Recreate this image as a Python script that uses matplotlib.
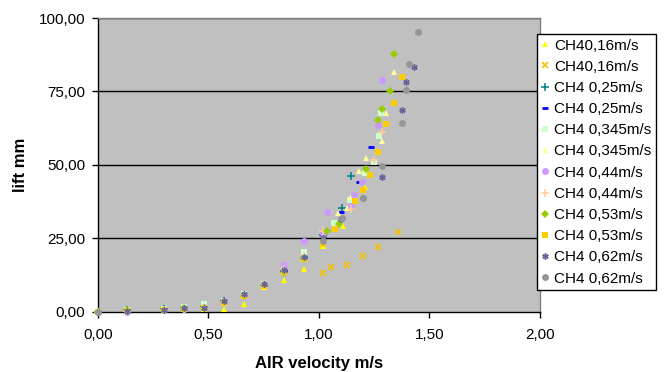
import matplotlib
matplotlib.use("Agg")
import matplotlib.pyplot as plt
from matplotlib.ticker import FuncFormatter

plt.rcParams['font.family'] = ['Liberation Sans', 'DejaVu Sans']

labels = ["CH40,16m/s", "CH40,16m/s", "CH4 0,25m/s", "CH4 0,25m/s",
          "CH4 0,345m/s", "CH4 0,345m/s", "CH4 0,44m/s", "CH4 0,44m/s",
          "CH4 0,53m/s", "CH4 0,53m/s", "CH4 0,62m/s", "CH4 0,62m/s"]

x1 = [0, 0.13, 0.30, 0.39, 0.48, 0.57, 0.66, 0.75, 0.84, 0.93, 1.02, 1.11, 1.21]
y1 = [0, 0.3, 0.5, 0.8, 1.0, 1.0, 2.6, 8.5, 10.8, 14.5, 22.5, 29.2, 42.6]

x2 = [1.02, 1.055, 1.125, 1.20, 1.266, 1.356]
y2 = [13.1, 15.2, 15.9, 19.0, 22.0, 27.1]

x3 = [0, 0.13, 0.30, 0.39, 0.48, 0.57, 0.66, 0.75, 0.84, 0.93, 1.02, 1.105, 1.143]
y3 = [0, 0.5, 0.8, 1.3, 1.5, 3.5, 5.8, 9.2, 14.0, 18.5, 26.0, 35.2, 46.3]

x4 = [0, 0.13, 0.30, 0.39, 0.48, 0.57, 0.66, 0.75, 0.84, 0.93, 1.02, 1.10, 1.18, 1.237]
y4 = [0, 0.5, 0.8, 1.3, 1.5, 3.5, 5.8, 9.2, 14.0, 18.5, 26.0, 34.0, 44.3, 56.0]

x5 = [0, 0.13, 0.30, 0.39, 0.48, 0.57, 0.66, 0.75, 0.84, 0.93, 1.07, 1.14, 1.21, 1.25, 1.27, 1.28]
y5 = [0, 0.5, 1.0, 1.6, 2.5, 3.8, 6.0, 9.5, 15.3, 20.4, 30.1, 38.0, 47.1, 50.9, 59.8, 67.8]

x6 = [0, 0.13, 0.30, 0.39, 0.48, 0.57, 0.66, 0.75, 0.84, 0.93, 1.02, 1.087, 1.125, 1.143, 1.18, 1.213, 1.285, 1.303, 1.338]
y6 = [0, 0.4, 0.7, 1.2, 1.4, 3.3, 5.5, 9.0, 14.0, 19.0, 26.0, 33.7, 35.2, 39.2, 47.9, 52.2, 58.1, 67.8, 81.7]

x7 = [0, 0.13, 0.30, 0.39, 0.48, 0.57, 0.66, 0.75, 0.84, 0.93, 1.02, 1.035, 1.146, 1.158, 1.195, 1.266, 1.285]
y7 = [0, 0.0, 0.6, 0.8, 1.5, 3.5, 5.5, 9.5, 15.8, 24.2, 26.9, 34.0, 36.1, 39.7, 44.3, 63.4, 78.9]

x8 = [0, 0.13, 0.30, 0.39, 0.48, 0.57, 0.66, 0.75, 0.84, 0.93, 1.018, 1.146, 1.248, 1.285]
y8 = [0, 0.3, 0.6, 1.0, 1.4, 3.4, 5.6, 9.3, 14.5, 19.0, 27.5, 35.0, 51.7, 61.1]

x9 = [0, 0.13, 0.30, 0.39, 0.48, 0.57, 0.66, 0.75, 0.84, 0.93, 1.035, 1.09, 1.213, 1.267, 1.285, 1.323, 1.339]
y9 = [0, 0.6, 0.5, 1.4, 1.3, 3.3, 5.5, 9.0, 13.1, 18.0, 27.5, 29.8, 48.5, 65.3, 68.9, 75.2, 87.9]

x10 = [0, 0.13, 0.30, 0.39, 0.48, 0.57, 0.66, 0.75, 0.84, 0.93, 1.02, 1.072, 1.162, 1.198, 1.233, 1.266, 1.303, 1.338, 1.375]
y10 = [0, 0.3, 0.5, 1.0, 1.2, 3.0, 5.3, 8.8, 13.5, 18.0, 23.0, 28.2, 37.8, 41.4, 46.6, 54.3, 63.9, 71.2, 79.9]

x11 = [0, 0.13, 0.30, 0.39, 0.48, 0.57, 0.66, 0.75, 0.84, 0.93, 1.02, 1.10, 1.20, 1.285, 1.375, 1.393, 1.428]
y11 = [0, 0.3, 0.6, 1.2, 1.4, 3.6, 5.9, 9.3, 14.2, 18.5, 25.0, 31.5, 38.8, 46.0, 68.7, 78.2, 83.3]

x12 = [0, 1.018, 1.105, 1.198, 1.285, 1.375, 1.393, 1.409, 1.446]
y12 = [0, 24.1, 31.8, 38.8, 49.7, 64.4, 75.4, 84.3, 95.1]

xs = [x1, x2, x3, x4, x5, x6, x7, x8, x9, x10, x11, x12]
ys = [y1, y2, y3, y4, y5, y6, y7, y8, y9, y10, y11, y12]

styles = [
    dict(marker='^', color='#FFFF00', ms=5, mew=0),
    dict(marker='x', color='#F5C000', ms=5, mew=1.2),
    dict(marker='+', color='#008080', ms=5.5, mew=1.1),
    dict(marker='_', color='#0000FF', ms=4, mew=2.0),
    dict(marker='s', color='#CCFFCC', ms=4.5, mew=0),
    dict(marker='^', color='#FFFF99', ms=5, mew=0),
    dict(marker='o', color='#CC99FF', ms=5, mew=0),
    dict(marker='+', color='#FFCC99', ms=5.5, mew=1.1),
    dict(marker='D', color='#99CC00', ms=4, mew=0),
    dict(marker='s', color='#FFCC00', ms=4.5, mew=0),
    dict(marker=(6, 2, 0), color='#666699', ms=4.5, mew=1.1),
    dict(marker='o', color='#969696', ms=5, mew=0),
]

fig = plt.figure(figsize=(6.64, 3.72), dpi=100)
ax = fig.add_axes([98/664, 1 - 311.7/372, (540 - 98)/664, (311.7 - 18)/372])
ax.set_facecolor('#C0C0C0')

handles = []
for x, y, lab, st in zip(xs, ys, labels, styles):
    h, = ax.plot(x, y, linestyle='none', marker=st['marker'], color=st['color'],
                 markersize=st['ms'], markeredgewidth=st['mew'], label=lab,
                 clip_on=False, zorder=3)
    handles.append(h)

ax.set_xlim(0, 2)
ax.set_ylim(0, 100)
ax.set_xticks([0, 0.5, 1.0, 1.5, 2.0])
ax.set_yticks([0, 25, 50, 75, 100])
fmt = FuncFormatter(lambda v, p: f"{v:.2f}".replace('.', ','))
ax.xaxis.set_major_formatter(fmt)
ax.yaxis.set_major_formatter(fmt)
ax.tick_params(axis='both', direction='out', length=4, width=1, colors='black',
               labelsize=11)
ax.tick_params(axis='x', pad=8)
ax.tick_params(axis='y', pad=5)
for yv in [25, 50, 75, 100]:
    ax.axhline(yv, color='black', linewidth=1, zorder=1)

ax.spines['left'].set_color('black')
ax.spines['bottom'].set_color('black')
ax.spines['top'].set_color('#808080')
ax.spines['right'].set_color('#808080')
for s in ax.spines.values():
    s.set_linewidth(1)

ax.set_xlabel('AIR velocity m/s', fontsize=12, fontweight='bold', labelpad=10)
ax.set_ylabel('lift mm', fontsize=12, fontweight='bold', labelpad=8)

leg = fig.legend(handles=handles, loc='upper left',
                 bbox_to_anchor=(537/664, 1 - 34/372), bbox_transform=fig.transFigure,
                 frameon=True, fancybox=False, edgecolor='black', framealpha=1,
                 fontsize=11, handlelength=0.5, handletextpad=0.3, borderpad=0.3,
                 labelspacing=0.47, borderaxespad=0)
leg.get_frame().set_linewidth(1)

fig.savefig('out.png', dpi=100)
